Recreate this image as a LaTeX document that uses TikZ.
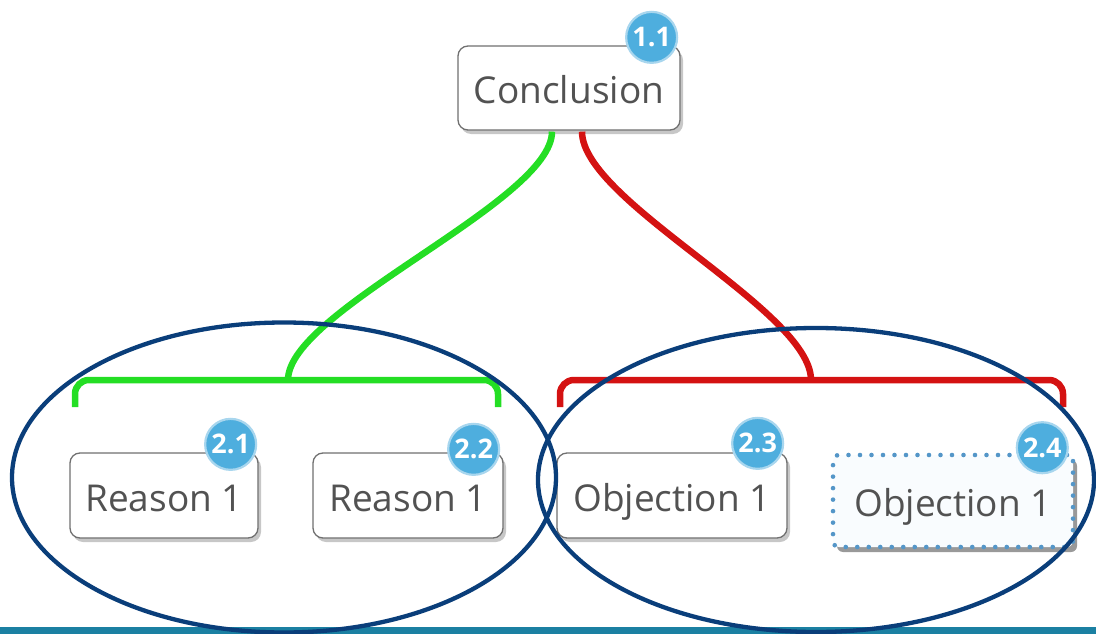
\documentclass[tikz,border=0pt]{standalone}
\usepackage{fontspec}
\setmainfont{Open Sans}
\usetikzlibrary{shadows,calc}

\definecolor{pro}{RGB}{36,222,36}
\definecolor{con}{RGB}{212,18,18}
\definecolor{grouping}{RGB}{10,62,122}
\definecolor{band}{RGB}{27,128,162}
\definecolor{badgefill}{RGB}{78,174,222}
\definecolor{badgering}{RGB}{168,214,238}
\definecolor{boxline}{RGB}{112,112,112}
\definecolor{txt}{RGB}{82,82,82}
\definecolor{dots}{RGB}{84,150,200}
\definecolor{draftfill}{RGB}{249,252,254}

\begin{document}
\begin{tikzpicture}[x=1pt,y=-1pt,
  claimtext/.style={inner sep=0pt, text=txt, font=\fontsize{37}{40}\selectfont,
    text height=34pt, text depth=3pt},
  claim/.style={claimtext, draw=boxline, line width=1.3pt, fill=white, rounded corners=10pt,
    drop shadow={shadow xshift=3pt, shadow yshift=-4pt, fill=black, opacity=0.22}},
  draftclaim/.style={claimtext, draw=dots, line width=4.6pt, dash pattern=on 0pt off 11.5pt,
    line cap=round, fill=draftfill, rounded corners=6pt,
    drop shadow={shadow xshift=4pt, shadow yshift=-5pt, fill=black, opacity=0.4}},
  badge/.style={circle, fill=badgefill, draw=badgering, line width=2.2pt,
    minimum size=51pt, inner sep=0pt, text=white,
    font=\fontsize{27}{27}\selectfont\bfseries},
  proline/.style={draw=pro, line width=6.5pt},
  conline/.style={draw=con, line width=6.5pt},
  group/.style={draw=grouping, line width=4.3pt},
]
\useasboundingbox (0,0) rectangle (1096,634);

% bottom strip
\fill[band] (0,627) rectangle (1096,634);

% join points on the bars
\coordinate (gj) at (288,380);
\coordinate (rj) at (811,380);
\coordinate (gl) at (75,407);
\coordinate (gr) at (498,407);
\coordinate (rl) at (560,407);
\coordinate (rr) at (1063,407);

% bars above the premises
\draw[proline, rounded corners=14pt] (gl) |- (gj) -| (gr);
\draw[conline, rounded corners=14pt] (rl) |- (rj) -| (rr);

% claims
\node[claim, minimum width=222pt, minimum height=84pt] (c)  at (569,88)    {Conclusion};
\node[claim, minimum width=188pt, minimum height=85pt] (r1) at (164,495.5) {Reason 1};
\node[claim, minimum width=190pt, minimum height=85pt] (r2) at (408,495.5) {Reason 1};
\node[claim, minimum width=230pt, minimum height=85pt] (o1) at (672,495.5) {Objection 1};
\node[draftclaim, minimum width=240pt, minimum height=92pt] (o2) at (953,501) {Objection 1};

% links from the conclusion down to the bars
\draw[proline] ($(c.south)+(-17,1)$) .. controls +(0,70) and +(0,-70) .. (gj);
\draw[conline] ($(c.south)+(13,1)$) .. controls +(0,70) and +(0,-70) .. (rj);

% number badges
\node[badge] (b11) at ($(c.north east)+(-29,-8)$)  {1.1};
\node[badge] (b21) at ($(r1.north east)+(-28,-8)$) {2.1};
\node[badge] (b22) at ($(r2.north east)+(-30,-3)$) {2.2};
\node[badge] (b23) at ($(o1.north east)+(-30,-9)$) {2.3};
\node[badge] (b24) at ($(o2.north east)+(-33,-5)$) {2.4};

% grouping ellipses
\draw[group] (284,477.5) ellipse [x radius=272pt, y radius=155pt];
\draw[group] (816,480) ellipse [x radius=278pt, y radius=152pt];
\end{tikzpicture}
\end{document}
